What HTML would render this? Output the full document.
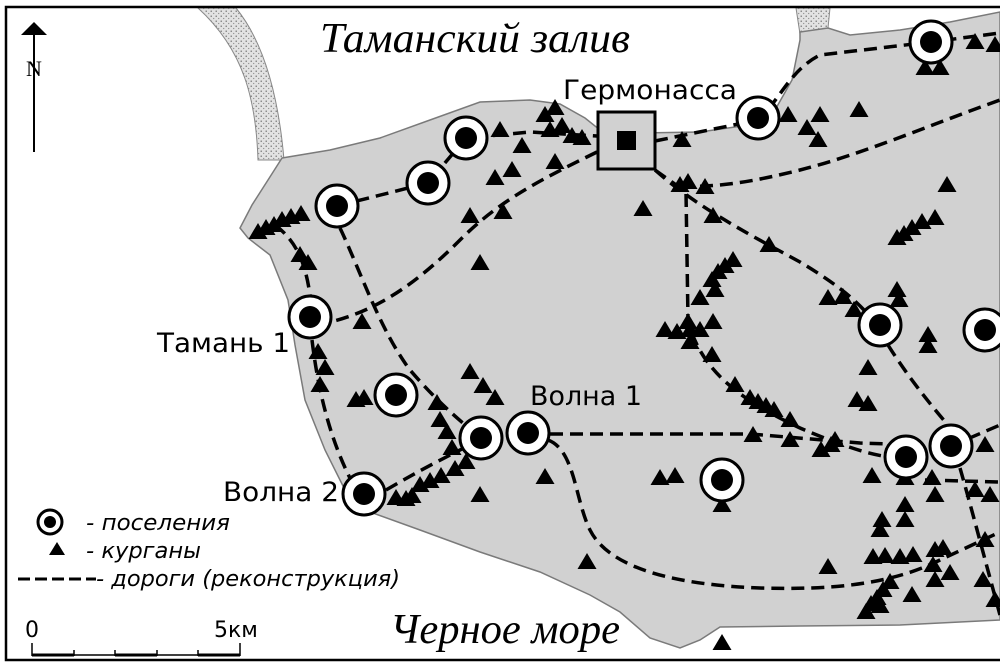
<!DOCTYPE html>
<html><head><meta charset="utf-8"><style>
html,body{margin:0;padding:0;background:#fff;}
svg{display:block;}
.hand{font-family:"Liberation Serif",serif;font-style:italic;}
.lab{font-family:"DejaVu Sans","Liberation Sans",sans-serif;}
</style></head><body>
<svg width="1000" height="667" viewBox="0 0 1000 667" xmlns="http://www.w3.org/2000/svg">
<defs>
<pattern id="dots" width="5" height="5" patternUnits="userSpaceOnUse"><rect width="5" height="5" fill="#e2e2e2"/><circle cx="1.2" cy="1.2" r="0.7" fill="#666"/><circle cx="3.7" cy="3.5" r="0.6" fill="#888"/></pattern>
<polygon id="t" points="0,-9 9.5,7 -9.5,7" fill="#000"/>
<g id="s"><circle r="21" fill="#fff" stroke="#000" stroke-width="3"/><circle r="11" fill="#000"/></g>
</defs>
<rect width="1000" height="667" fill="#fff"/>
<path d="M198,8 L236,8 C262,40 278,90 284,160 L258,160 C256,100 244,50 198,8 Z" fill="url(#dots)" stroke="#888" stroke-width="1"/>
<path d="M796,8 L830,8 L828,28 L800,34 Z" fill="url(#dots)" stroke="#888" stroke-width="1"/>
<path d="M282,158 L330,150 L380,138 L430,120 L480,102 L530,100 L560,104 L585,118 L600,130 L640,133 L700,132 L742,126 L775,110 L792,80 L800,40 L800,32 L828,28 L850,35 L900,30 L950,22 L1000,12 L1000,620 L900,625 L800,626 L720,627 L700,640 L680,648 L650,638 L620,612 L590,595 L540,572 L480,552 L420,530 L370,512 L345,490 L325,450 L305,400 L295,345 L288,300 L270,255 L248,238 L240,228 L252,205 L268,180 Z" fill="#d1d1d1" stroke="#7a7a7a" stroke-width="1.5"/>
<g fill="none" stroke="#000" stroke-width="3.5" stroke-dasharray="13 7">
<path d="M337,206 L428,183 L466,138 L530,132 L597,136"/>
<path d="M655,141 L758,120 C780,100 790,70 820,55 L931,42 L1000,33"/>
<path d="M597,152 C540,180 500,200 460,240 C420,280 380,310 330,322"/>
<path d="M340,228 C360,270 380,330 410,370 C440,405 465,425 481,438"/>
<path d="M275,225 C295,240 305,260 310,295"/>
<path d="M312,340 C318,390 330,440 352,482"/>
<path d="M386,490 C420,470 450,455 470,445"/>
<path d="M550,434 L750,434 L860,443 L951,446 L1000,425"/>
<path d="M548,440 C575,450 575,500 590,530 C610,570 680,585 760,588 C830,590 890,585 940,560 L1000,532"/>
<path d="M655,170 L686,192 L688,320 C700,370 740,400 800,428 C840,445 870,455 890,457"/>
<path d="M655,170 C700,210 760,240 800,262 C830,280 850,295 864,310"/>
<path d="M680,186 C720,188 760,180 800,170 C860,155 930,125 1000,100"/>
<path d="M888,345 C910,380 935,410 948,425"/>
<path d="M960,468 C972,510 985,560 1000,615"/>
<path d="M925,480 L1000,482"/>
</g>
<g>
<use href="#t" x="258" y="232"/><use href="#t" x="266" y="228"/><use href="#t" x="274" y="225"/><use href="#t" x="282" y="220"/><use href="#t" x="291" y="217"/><use href="#t" x="301" y="214"/>
<use href="#t" x="300" y="255"/><use href="#t" x="308" y="263"/>
<use href="#t" x="500" y="130"/><use href="#t" x="522" y="146"/><use href="#t" x="545" y="115"/><use href="#t" x="550" y="130"/><use href="#t" x="555" y="108"/><use href="#t" x="562" y="126"/><use href="#t" x="572" y="136"/><use href="#t" x="582" y="138"/><use href="#t" x="555" y="162"/><use href="#t" x="512" y="170"/><use href="#t" x="495" y="178"/><use href="#t" x="470" y="216"/><use href="#t" x="503" y="212"/><use href="#t" x="480" y="263"/>
<use href="#t" x="643" y="209"/><use href="#t" x="682" y="140"/><use href="#t" x="680" y="185"/><use href="#t" x="688" y="182"/><use href="#t" x="705" y="187"/><use href="#t" x="713" y="216"/><use href="#t" x="769" y="245"/>
<use href="#t" x="788" y="115"/><use href="#t" x="820" y="115"/><use href="#t" x="818" y="140"/><use href="#t" x="807" y="128"/><use href="#t" x="859" y="110"/>
<use href="#t" x="947" y="185"/><use href="#t" x="935" y="218"/><use href="#t" x="922" y="222"/><use href="#t" x="912" y="228"/><use href="#t" x="904" y="234"/><use href="#t" x="897" y="238"/>
<use href="#t" x="925" y="68"/><use href="#t" x="940" y="68"/><use href="#t" x="975" y="42"/><use href="#t" x="995" y="45"/>
<use href="#t" x="733" y="260"/><use href="#t" x="725" y="266"/><use href="#t" x="718" y="272"/><use href="#t" x="712" y="280"/><use href="#t" x="715" y="290"/><use href="#t" x="700" y="298"/>
<use href="#t" x="665" y="330"/><use href="#t" x="677" y="332"/><use href="#t" x="688" y="322"/><use href="#t" x="700" y="330"/><use href="#t" x="713" y="322"/><use href="#t" x="690" y="342"/><use href="#t" x="712" y="355"/><use href="#t" x="690" y="330"/>
<use href="#t" x="735" y="385"/><use href="#t" x="750" y="398"/><use href="#t" x="758" y="402"/><use href="#t" x="766" y="406"/><use href="#t" x="774" y="410"/><use href="#t" x="790" y="420"/>
<use href="#t" x="753" y="435"/><use href="#t" x="790" y="440"/><use href="#t" x="831" y="445"/><use href="#t" x="821" y="450"/><use href="#t" x="835" y="440"/><use href="#t" x="857" y="400"/><use href="#t" x="868" y="404"/><use href="#t" x="868" y="368"/>
<use href="#t" x="928" y="335"/><use href="#t" x="928" y="346"/><use href="#t" x="828" y="298"/><use href="#t" x="843" y="297"/><use href="#t" x="854" y="310"/><use href="#t" x="897" y="290"/><use href="#t" x="899" y="300"/>
<use href="#t" x="985" y="445"/><use href="#t" x="975" y="490"/><use href="#t" x="990" y="495"/><use href="#t" x="932" y="478"/><use href="#t" x="872" y="476"/><use href="#t" x="905" y="478"/><use href="#t" x="935" y="495"/>
<use href="#t" x="905" y="505"/><use href="#t" x="905" y="520"/><use href="#t" x="882" y="520"/><use href="#t" x="880" y="530"/>
<use href="#t" x="873" y="557"/><use href="#t" x="885" y="556"/><use href="#t" x="900" y="557"/><use href="#t" x="913" y="555"/><use href="#t" x="935" y="550"/><use href="#t" x="943" y="548"/><use href="#t" x="933" y="565"/><use href="#t" x="950" y="573"/><use href="#t" x="935" y="580"/>
<use href="#t" x="912" y="595"/><use href="#t" x="890" y="582"/><use href="#t" x="883" y="590"/><use href="#t" x="877" y="598"/><use href="#t" x="871" y="604"/><use href="#t" x="866" y="612"/><use href="#t" x="880" y="606"/>
<use href="#t" x="985" y="540"/><use href="#t" x="983" y="580"/><use href="#t" x="995" y="600"/>
<use href="#t" x="722" y="505"/><use href="#t" x="660" y="478"/><use href="#t" x="675" y="476"/><use href="#t" x="545" y="477"/><use href="#t" x="480" y="495"/><use href="#t" x="587" y="562"/><use href="#t" x="828" y="567"/><use href="#t" x="722" y="643"/>
<use href="#t" x="362" y="322"/><use href="#t" x="318" y="352"/><use href="#t" x="325" y="368"/><use href="#t" x="320" y="385"/><use href="#t" x="356" y="400"/><use href="#t" x="364" y="398"/>
<use href="#t" x="437" y="403"/><use href="#t" x="440" y="420"/><use href="#t" x="447" y="432"/><use href="#t" x="452" y="448"/><use href="#t" x="470" y="372"/><use href="#t" x="483" y="386"/><use href="#t" x="495" y="398"/>
<use href="#t" x="420" y="485"/><use href="#t" x="430" y="481"/><use href="#t" x="441" y="476"/><use href="#t" x="455" y="469"/><use href="#t" x="466" y="462"/><use href="#t" x="396" y="498"/><use href="#t" x="406" y="499"/><use href="#t" x="412" y="496"/>
</g>
<use href="#s" x="337" y="206"/><use href="#s" x="428" y="183"/><use href="#s" x="466" y="138"/><use href="#s" x="310" y="317"/>
<use href="#s" x="396" y="395"/><use href="#s" x="481" y="438"/><use href="#s" x="528" y="433"/><use href="#s" x="364" y="494"/>
<use href="#s" x="758" y="118"/><use href="#s" x="931" y="42"/><use href="#s" x="880" y="325"/><use href="#s" x="985" y="330"/>
<use href="#s" x="906" y="457"/><use href="#s" x="951" y="446"/><use href="#s" x="722" y="480"/>
<rect x="598" y="112" width="57" height="57" fill="#d1d1d1" stroke="#000" stroke-width="3"/>
<rect x="617" y="131" width="19" height="19" fill="#000"/>
<path d="M1000,7 L6,7 L6,660 L1000,660" fill="none" stroke="#000" stroke-width="2.5"/>
<line x1="34" y1="30" x2="34" y2="152" stroke="#000" stroke-width="2"/>
<polygon points="34,22 47,35 21,35" fill="#000"/>
<text x="34" y="76" font-family="Liberation Serif,serif" font-size="22" text-anchor="middle">N</text>
<text class="hand" x="320" y="52" font-size="42" textLength="310" lengthAdjust="spacingAndGlyphs">Таманский залив</text>
<text class="hand" x="390" y="643" font-size="42" textLength="230" lengthAdjust="spacingAndGlyphs">Черное море</text>
<g class="lab" font-size="27" fill="#000">
<text x="563" y="99" textLength="174" lengthAdjust="spacingAndGlyphs">Гермонасса</text>
<text x="157" y="352" textLength="133" lengthAdjust="spacingAndGlyphs">Тамань 1</text>
<text x="530" y="405" textLength="112" lengthAdjust="spacingAndGlyphs">Волна 1</text>
<text x="223" y="501" textLength="116" lengthAdjust="spacingAndGlyphs">Волна 2</text>
</g>
<circle cx="50" cy="522" r="12" fill="#fff" stroke="#000" stroke-width="3"/><circle cx="50" cy="522" r="6" fill="#000"/>
<polygon points="57,542 65,555 49,555" fill="#000"/>
<line x1="18" y1="579" x2="96" y2="579" stroke="#000" stroke-width="3" stroke-dasharray="12 5"/>
<g font-family="DejaVu Sans,Liberation Sans,sans-serif" font-style="italic" font-size="22" fill="#000">
<text x="86" y="530" textLength="144" lengthAdjust="spacingAndGlyphs">- поселения</text>
<text x="86" y="558" textLength="115" lengthAdjust="spacingAndGlyphs">- курганы</text>
<text x="96" y="586" textLength="304" lengthAdjust="spacingAndGlyphs">- дороги (реконструкция)</text>
</g>
<g class="lab" font-size="22"><text x="25" y="637">0</text><text x="214" y="637">5км</text></g>
<line x1="32" y1="655" x2="240" y2="655" stroke="#000" stroke-width="1.5"/>
<g stroke="#000" stroke-width="3"><line x1="32" y1="655" x2="74" y2="655"/><line x1="115" y1="655" x2="157" y2="655"/><line x1="198" y1="655" x2="240" y2="655"/></g>
<g stroke="#000" stroke-width="1.5"><line x1="32" y1="643" x2="32" y2="656"/><line x1="74" y1="650" x2="74" y2="656"/><line x1="115" y1="650" x2="115" y2="656"/><line x1="157" y1="650" x2="157" y2="656"/><line x1="198" y1="650" x2="198" y2="656"/><line x1="240" y1="643" x2="240" y2="656"/></g>
</svg>
</body></html>
